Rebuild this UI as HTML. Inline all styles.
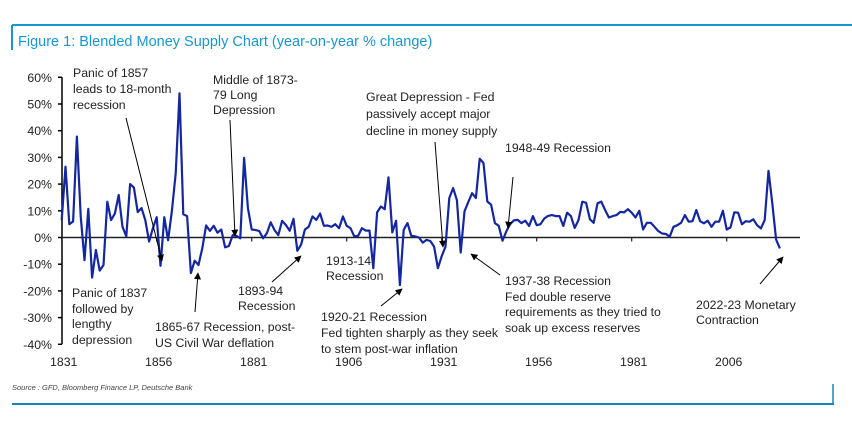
<!DOCTYPE html>
<html><head><meta charset="utf-8"><style>
body{margin:0;background:#fff;width:852px;height:427px;overflow:hidden;font-family:"Liberation Sans",Arial,sans-serif}
svg text{font-family:"Liberation Sans",Arial,sans-serif}
</style></head><body>
<svg id="c" width="852" height="427" viewBox="0 0 852 427" xmlns="http://www.w3.org/2000/svg">
<defs><marker id="ah" viewBox="0 0 10 10" refX="9" refY="5" markerWidth="7" markerHeight="7" orient="auto"><path d="M0,0 L10,5 L0,10 z" fill="#000"/></marker></defs>
<line x1="12" y1="25" x2="852" y2="25" stroke="#1a96cf" stroke-width="2"/>
<line x1="12" y1="25" x2="12" y2="50" stroke="#1a96cf" stroke-width="2"/>
<text x="18" y="46" font-size="14.5" fill="#1a96cf">Figure 1: Blended Money Supply Chart (year-on-year % change)</text>
<g id="yaxis"></g>
<g id="xaxis"></g>
<polyline id="line" fill="none" stroke="#1426a0" stroke-width="2.2" stroke-linejoin="round"/>
<g font-size="12.3" fill="#222">
<text><tspan x="73" y="77">Panic of 1857</tspan><tspan x="73" y="93">leads to 18-month</tspan><tspan x="73" y="109">recession</tspan></text>
<line x1="126" y1="118" x2="162" y2="261" stroke="#000" marker-end="url(#ah)"/>
<text><tspan x="213" y="84">Middle of 1873-</tspan><tspan x="213" y="99">79 Long</tspan><tspan x="213" y="114">Depression</tspan></text>
<line x1="230" y1="120" x2="235" y2="236" stroke="#000" marker-end="url(#ah)"/>
<text><tspan x="366" y="101">Great Depression - Fed</tspan><tspan x="366" y="118">passively accept major</tspan><tspan x="366" y="135">decline in money supply</tspan></text>
<line x1="435" y1="142" x2="443" y2="247" stroke="#000" marker-end="url(#ah)"/>
<text x="505" y="152">1948-49 Recession</text>
<line x1="513" y1="177" x2="508" y2="228" stroke="#000" marker-end="url(#ah)"/>
<text><tspan x="72" y="297">Panic of 1837</tspan><tspan x="72" y="313">followed by</tspan><tspan x="72" y="328">lengthy</tspan><tspan x="72" y="344">depression</tspan></text>
<text><tspan x="155" y="331">1865-67 Recession, post-</tspan><tspan x="155" y="347">US Civil War deflation</tspan></text>
<line x1="195" y1="312" x2="198" y2="273" stroke="#000" marker-end="url(#ah)"/>
<text><tspan x="238" y="295">1893-94</tspan><tspan x="238" y="310">Recession</tspan></text>
<line x1="272" y1="282" x2="301" y2="256" stroke="#000" marker-end="url(#ah)"/>
<text><tspan x="326" y="265">1913-14</tspan><tspan x="326" y="280">Recession</tspan></text>
<text><tspan x="321" y="321">1920-21 Recession</tspan><tspan x="321" y="337">Fed tighten sharply as they seek</tspan><tspan x="321" y="353">to stem post-war inflation</tspan></text>
<line x1="381" y1="306" x2="402" y2="289" stroke="#000" marker-end="url(#ah)"/>
<text><tspan x="505" y="285">1937-38 Recession</tspan><tspan x="505" y="301">Fed double reserve</tspan><tspan x="505" y="316">requirements as they tried to</tspan><tspan x="505" y="332">soak up excess reserves</tspan></text>
<line x1="500" y1="275" x2="471" y2="254" stroke="#000" marker-end="url(#ah)"/>
<text><tspan x="696" y="309">2022-23 Monetary</tspan><tspan x="696" y="324">Contraction</tspan></text>
<line x1="760" y1="284" x2="783" y2="257" stroke="#000" marker-end="url(#ah)"/>
</g>
<text x="12" y="390" font-size="7.5" font-style="italic" fill="#444">Source : GFD, Bloomberg Finance LP, Deutsche Bank</text>
<line x1="12" y1="404" x2="834" y2="404" stroke="#1a82b0" stroke-width="2"/>
<line x1="833" y1="384" x2="833" y2="404" stroke="#1a82b0" stroke-width="1.5"/>
</svg>
<script>
const startYear = 1831;
const values = [6.5,26.5,5,6,37.8,8,-8.5,10.7,-15,-4.7,-12.4,-10.3,13.4,6.5,9,15.9,4,0.4,20,18.7,9.5,11,6.5,-1.5,3.5,7.6,-10.6,7.6,-1,10,24,54,8.7,8,-13.3,-8.7,-10.3,-4,4.5,2.5,4.4,1.8,3,-3.7,-3.2,0.9,0.6,-0.3,29.8,11,3,2.8,2.4,-0.3,1.6,5.7,2.8,0.9,6.2,4.7,2.5,
7,-5,-2.7,3,4,7.9,6.6,9,4.4,4.5,4,5,3.5,7.9,4.4,3.5,0.4,0.6,3.5,2.6,2.6,-11.5,9.4,11.6,10.6,22.5,1.9,6.3,-17.8,2.9,5.4,0.6,0.4,0,-1.9,-0.9,-1.3,-3.4,-11.5,-7,-3.4,14.8,18.5,14,-5.6,9.8,13.3,16.6,14.8,29.5,27.9,13.5,12.3,5.4,4.4,-1.2,2.3,5,6.4,6.6,5.4,6.3,
4.3,8,4.6,5,7.1,8.1,8.4,8,8,4.3,9.3,8,3.6,6.5,13.4,13,6.8,5.5,12.8,13.4,10.3,7.5,8,8.4,9.6,9.4,10.6,9.3,7.5,10,3,5.5,5.5,4,2.4,1.5,1.3,0.3,4,4.6,5.5,8.4,5.9,6.1,10.3,6.1,5.3,6.3,4,5.9,5.9,10,3,3.8,9.4,9.3,5,6.1,5.9,6.8,4.6,3.4,6.5,25,12.8,-0.8,-4.1];
const yTicks = [60,50,40,30,20,10,0,-10,-20,-30,-40];
const xTickYears = [1831,1856,1881,1906,1931,1956,1981,2006];
const NS="http://www.w3.org/2000/svg";
function X(yr){return 61.7+(yr-1831)*3.8;}
function Y(v){return 237.5-v*2.67;}
const ya=document.getElementById('yaxis'), xa=document.getElementById('xaxis');
function mk(t,a,p){const e=document.createElementNS(NS,t);for(const k in a)e.setAttribute(k,a[k]);p.appendChild(e);return e;}
mk('line',{x1:62,y1:Y(60),x2:62,y2:Y(-40),stroke:'#000','stroke-width':1.5},ya);
yTicks.forEach(v=>{
 mk('line',{x1:58,y1:Y(v),x2:62,y2:Y(v),stroke:'#000','stroke-width':1.5},ya);
 const t=mk('text',{x:52,y:Y(v)+4.5,'text-anchor':'end','font-size':12.3,fill:'#222'},ya);
 t.textContent=v+'%';
 
 
});
mk('line',{x1:62,y1:Y(0),x2:800,y2:Y(0),stroke:'#222','stroke-width':1.5},xa);
xTickYears.forEach(yr=>{
 mk('line',{x1:X(yr),y1:Y(0),x2:X(yr),y2:Y(0)+4,stroke:'#222','stroke-width':1.2},xa);
 const t=mk('text',{x:X(yr)+2,y:366,'text-anchor':'middle','font-size':12.3,fill:'#222'},xa);
 t.textContent=yr;
 
 
});
document.getElementById('line').setAttribute('points',values.map((v,i)=>X(startYear+i).toFixed(1)+','+Y(v).toFixed(1)).join(' '));
</script>
</body></html>
